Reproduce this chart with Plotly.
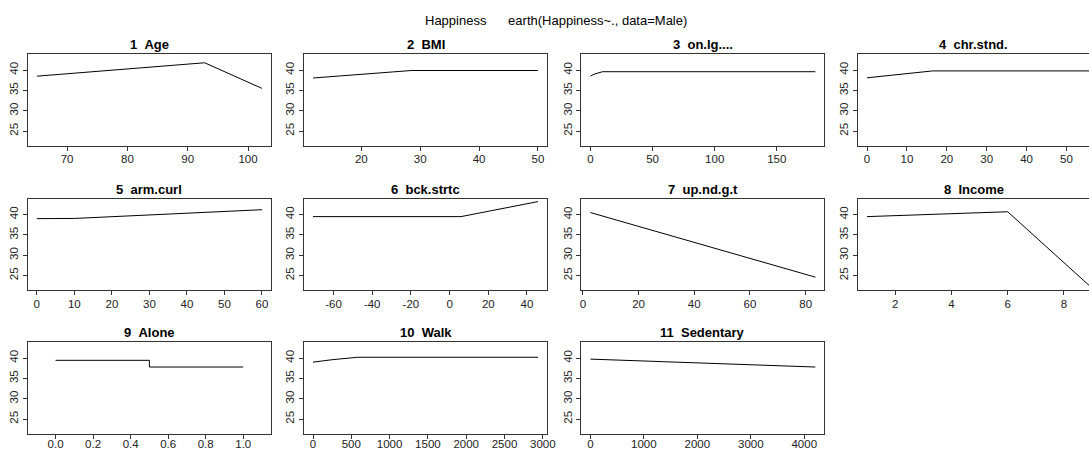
import plotly.graph_objects as go

# ---- data ----
titles = ["1  Age", "2  BMI", "3  on.lg....", "4  chr.stnd.", "5  arm.curl", "6  bck.strtc",
          "7  up.nd.g.t", "8  Income", "9  Alone", "10  Walk", "11  Sedentary"]

age_x = [65, 92.8, 102.3]
age_y = [38.5, 41.8, 35.5]
bmi_x = [11.8, 28.5, 50]
bmi_y = [38.05, 39.9, 39.9]
onlg_x = [0, 3, 9.8, 181]
onlg_y = [38.5, 39.0, 39.6, 39.6]
chr_x = [0, 16.5, 56.4]
chr_y = [38.1, 39.8, 39.8]
arm_x = [0, 10, 60]
arm_y = [39.0, 39.05, 41.2]
bck_x = [-70.6, 5.9, 45.7]
bck_y = [39.5, 39.5, 43.2]
up_x = [2.7, 83.5]
up_y = [40.5, 24.6]
inc_x = [1, 6, 9]
inc_y = [39.5, 40.7, 21.9]
alone_x = [0, 0.5, 0.5, 1]
alone_y = [39.45, 39.45, 37.8, 37.8]
walk_x = [0, 250, 580, 2937]
walk_y = [39.0, 39.6, 40.2, 40.2]
sed_x = [0, 4207]
sed_y = [39.75, 37.8]

bck_tickvals = [-60, -40, -20, 0, 20, 40]
bck_ticktext = ["-60", "-40", "-20", "0", "20", "40"]

series = [(age_x, age_y), (bmi_x, bmi_y), (onlg_x, onlg_y), (chr_x, chr_y),
          (arm_x, arm_y), (bck_x, bck_y), (up_x, up_y), (inc_x, inc_y),
          (alone_x, alone_y), (walk_x, walk_y), (sed_x, sed_y)]

x_ranges = [[63.5, 103.8], [10.27, 51.53], [-7.24, 188.2], [-2.26, 55.65],
            [-2.4, 62.4], [-75.25, 50.35], [-0.53, 86.7], [0.68, 8.89],
            [-0.148, 1.148], [-117.5, 3054.5], [-168, 4375]]
x_dticks = [10, 10, 50, 10, 10, 20, 20, 2, 0.2, 500, 1000]
y_ticks = [25, 30, 35, 40]
y_range = [21.44, 43.96]

W, H = 1089, 450
col_px = [(27.8, 271.0), (304.0, 547.0), (581.4, 824.3), (858.0, 1089.0)]
row_tops = [54.0, 198.5, 342.0]
row_h = 91.5
row_standoff = [-1, -1, -4]

fig = go.Figure()
annotations = []
layout = {}
for i, ((xs, ys), title) in enumerate(zip(series, titles)):
    r, c = divmod(i, 4)
    n = i + 1
    xa = "x" if n == 1 else f"x{n}"
    ya = "y" if n == 1 else f"y{n}"
    fig.add_trace(go.Scatter(x=xs, y=ys, mode="lines", xaxis=xa, yaxis=ya,
                             line=dict(color="black", width=1), showlegend=False,
                             hoverinfo="skip"))
    x0, x1 = col_px[c]
    top = row_tops[r]
    bot = top + row_h
    xd = [x0 / W, x1 / W]
    yd = [1 - bot / H, 1 - top / H]
    common = dict(showline=True, linecolor="#333333", linewidth=1, ticks="outside",
                  ticklen=4, tickcolor="#333333", showgrid=False, zeroline=False,
                  tickfont=dict(family="Liberation Sans, Arial", size=11.5, color="#222222"),
                  automargin=False)
    xax = dict(domain=xd, range=x_ranges[i], dtick=x_dticks[i], tick0=0,
               anchor=ya, mirror=True, ticklabelstandoff=row_standoff[r],
               tickformat=".1f" if i == 8 else None, **common)
    if i == 5:
        xax.update(tickmode="array", tickvals=bck_tickvals, ticktext=bck_ticktext)
    layout[("xaxis" if n == 1 else f"xaxis{n}")] = xax
    layout[("yaxis" if n == 1 else f"yaxis{n}")] = dict(
        domain=yd, range=y_range, tickvals=y_ticks, tickangle=-90,
        anchor=xa, mirror=(c != 3), **common)
    annotations.append(dict(text=f"<b>{title.replace(' ', '&nbsp;')}</b>",
                            x=(x0 + min(x1, x0 + 243)) / 2 / W, y=1 - top / H,
                            xref="paper", yref="paper", xanchor="center", yanchor="bottom",
                            showarrow=False,
                            font=dict(family="Liberation Sans, Arial", size=13, color="black")))

annotations.append(dict(text="Happiness&nbsp;&nbsp;&nbsp;&nbsp;&nbsp;&nbsp;earth(Happiness~., data=Male)",
                        x=555.6 / W, y=1 - 20.5 / H, xref="paper", yref="paper",
                        xanchor="center", yanchor="middle", showarrow=False,
                        font=dict(family="Liberation Sans, Arial", size=13, color="black")))

fig.update_layout(**layout)
fig.update_layout(width=W, height=H, margin=dict(l=0, r=0, t=0, b=0),
                  paper_bgcolor="white", plot_bgcolor="white",
                  annotations=annotations, showlegend=False)
fig.write_html("out.html", config={"displayModeBar": False},
               post_script="document.body.style.margin='0';document.body.style.overflow='hidden';")
